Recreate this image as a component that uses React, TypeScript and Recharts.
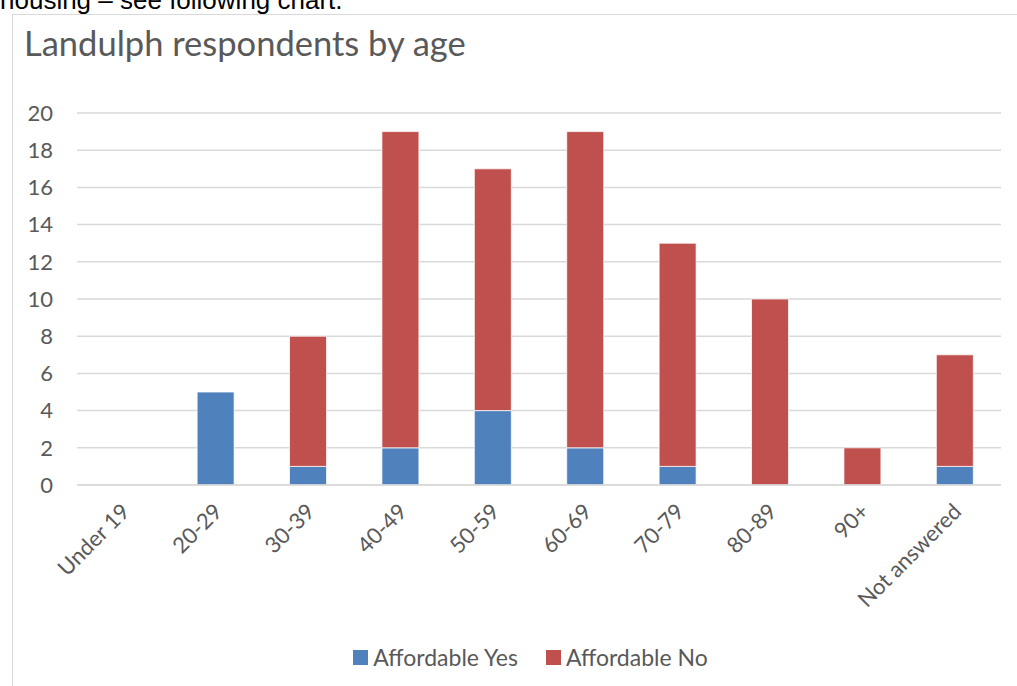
import React from 'react';
import { BarChart, Bar, XAxis, YAxis, CartesianGrid, Legend } from 'recharts';

// Age bands on the x axis
const AGE_GROUPS = [
  'Under 19', '20-29', '30-39', '40-49', '50-59',
  '60-69', '70-79', '80-89', '90+', 'Not answered',
];

// Respondent counts per band
const AFFORDABLE_YES = [0, 5, 1, 2, 4, 2, 1, 0, 0, 1];
const AFFORDABLE_NO = [0, 0, 7, 17, 13, 17, 12, 10, 2, 6];

const Y_TICKS = [0, 2, 4, 6, 8, 10, 12, 14, 16, 18, 20];

const COLORS = {
  yes: '#4F81BD',
  no: '#C0504D',
  text: '#595959',
  grid: '#D9D9D9',
};

const FONT = 'Lato, "Open Sans", sans-serif';

const data = AGE_GROUPS.map((name, i) => ({
  name,
  yes: AFFORDABLE_YES[i],
  no: AFFORDABLE_NO[i],
}));

// Rotated category label, anchored at its end like Excel does
function AgeTick(props: any) {
  const { x, y, payload } = props;
  return (
    <g transform={`translate(${x + 3},${y + 15})`}>
      <text
        transform="rotate(-45)"
        textAnchor="end"
        fill={COLORS.text}
        fontSize={22}
        fontFamily={FONT}
        dy={7}
      >
        {payload.value}
      </text>
    </g>
  );
}

function LegendBox() {
  const items = [
    { label: 'Affordable Yes', color: COLORS.yes },
    { label: 'Affordable No', color: COLORS.no },
  ];
  return (
    <div
      style={{
        display: 'flex',
        justifyContent: 'center',
        gap: 28,
        paddingTop: 8,
        paddingLeft: 60,
        fontFamily: FONT,
        fontSize: 23,
        color: COLORS.text,
      }}
    >
      {items.map((it) => (
        <div key={it.label} style={{ display: 'flex', alignItems: 'center' }}>
          <span style={{ width: 15, height: 15, background: it.color, marginRight: 5 }} />
          {it.label}
        </div>
      ))}
    </div>
  );
}

export default function App() {
  return (
    <div
      style={{
        position: 'absolute',
        left: 0,
        top: 0,
        width: 1017,
        height: 686,
        background: '#fff',
        overflow: 'hidden',
      }}
    >
      {/* Tail of the document text above the chart */}
      <div
        style={{
          position: 'absolute',
          left: 0,
          top: -15,
          fontFamily: 'Arial, "Liberation Sans", sans-serif',
          fontSize: 26,
          color: '#000',
          whiteSpace: 'nowrap',
        }}
      >
        housing – see following chart.
      </div>

      {/* Chart frame */}
      <div
        style={{
          position: 'absolute',
          left: 12,
          top: 14,
          width: 1020,
          height: 690,
          border: '1px solid #D9D9D9',
          boxSizing: 'border-box',
        }}
      />

      <div
        style={{
          position: 'absolute',
          left: 24,
          top: 22,
          fontFamily: FONT,
          fontSize: 34.5,
          color: COLORS.text,
          whiteSpace: 'nowrap',
        }}
      >
        Landulph respondents by age
      </div>

      <div style={{ position: 'absolute', left: 0, top: 0 }}>
        <BarChart
          width={1017}
          height={686}
          data={data}
          barCategoryGap="30%"
          margin={{ top: 113, right: 16, bottom: 0, left: 0 }}
        >
          <CartesianGrid vertical={false} stroke={COLORS.grid} strokeWidth={1.5} />
          <XAxis
            dataKey="name"
            height={150}
            interval={0}
            tickLine={false}
            axisLine={{ stroke: COLORS.grid, strokeWidth: 1.5 }}
            tick={<AgeTick />}
          />
          <YAxis
            width={77}
            domain={[0, 20]}
            ticks={Y_TICKS}
            axisLine={false}
            tickLine={false}
            tickSize={0}
            tickMargin={24}
            tick={{ fill: COLORS.text, fontSize: 22, fontFamily: FONT }}
          />
          <Legend verticalAlign="bottom" height={51} content={<LegendBox />} />
          <Bar dataKey="yes" stackId="a" fill={COLORS.yes} stroke="#fff" strokeWidth={0.75} isAnimationActive={false} />
          <Bar dataKey="no" stackId="a" fill={COLORS.no} stroke="#fff" strokeWidth={0.75} isAnimationActive={false} />
        </BarChart>
      </div>
    </div>
  );
}
